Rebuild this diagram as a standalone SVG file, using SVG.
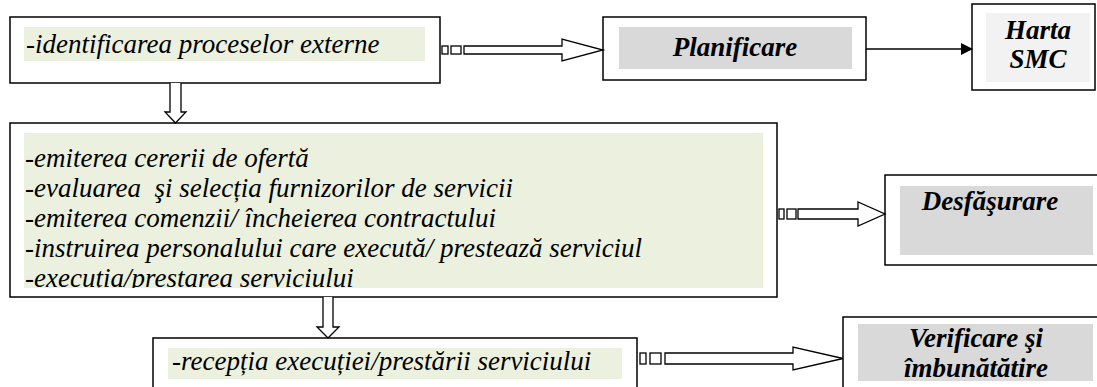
<svg xmlns="http://www.w3.org/2000/svg" width="1097" height="387" viewBox="0 0 1097 387">
<style>
.box{fill:#fff;stroke:#000;stroke-width:1.5}
.green{fill:#ebf1de}
.grey{fill:#d9d9d9}
.lgrey{fill:#f2f2f2}
.t{font-family:"Liberation Serif","Times New Roman",serif;font-style:italic;font-size:27px;fill:#000;white-space:pre}
.b{font-family:"Liberation Serif","Times New Roman",serif;font-style:italic;font-weight:bold;font-size:27px;fill:#000}
.ha{fill:#fff;stroke:#000;stroke-width:1.3}
</style>
<defs>
<clipPath id="c2"><rect x="24" y="133" width="739" height="155"/></clipPath>
<clipPath id="cv"><rect x="858" y="324" width="235" height="57"/></clipPath>
<marker id="solid" markerWidth="12" markerHeight="12" refX="11" refY="6" orient="auto" markerUnits="userSpaceOnUse"><path d="M0,0 L12,6 L0,12 Z" fill="#000"/></marker>
</defs>

<g id="node-identificare">
<rect class="box" x="10" y="17" width="430" height="66"/>
<rect class="green" x="24" y="27" width="401" height="34"/>
<text class="t" x="26" y="53">-identificarea proceselor externe</text>
</g>

<g id="node-planificare">
<rect class="box" x="603" y="17" width="263" height="63"/>
<rect class="grey" x="619" y="27" width="233" height="42"/>
<text class="b" x="735" y="56" text-anchor="middle">Planificare</text>
</g>

<g id="node-harta">
<rect class="box" x="972" y="4" width="123" height="86" stroke-width="2.2"/>
<rect class="lgrey" x="986" y="13" width="104" height="69"/>
<text class="b" x="1038" y="39" text-anchor="middle">Harta</text>
<text class="b" x="1038" y="68" text-anchor="middle">SMC</text>
</g>

<g id="node-procese">
<rect class="box" x="10" y="123" width="767" height="174"/>
<rect class="green" x="24" y="133" width="739" height="155"/>
<g clip-path="url(#c2)">
<text class="t" x="25" y="167">-emiterea cererii de ofertă</text>
<text class="t" x="25" y="197" xml:space="preserve">-evaluarea  şi selecția furnizorilor de servicii</text>
<text class="t" x="25" y="227">-emiterea comenzii/ încheierea contractului</text>
<text class="t" x="25" y="257">-instruirea personalului care execută/ prestează serviciul</text>
<text class="t" x="25" y="287">-execuția/prestarea serviciului</text>
</g>
</g>

<g id="node-desfasurare">
<rect class="box" x="885" y="175" width="220" height="90"/>
<rect class="grey" x="900" y="186" width="193" height="69"/>
<text class="b" x="990" y="210" text-anchor="middle">Desfăşurare</text>
</g>

<g id="node-receptie">
<rect class="box" x="153" y="338" width="484" height="60"/>
<rect class="green" x="168" y="348" width="454" height="31"/>
<text class="t" x="172" y="370">-recepția execuției/prestării serviciului</text>
</g>

<g id="node-verificare">
<rect class="box" x="843" y="317" width="260" height="80"/>
<rect class="grey" x="858" y="324" width="235" height="57"/>
<g clip-path="url(#cv)">
<text class="b" x="976" y="347" text-anchor="middle">Verificare şi</text>
<text class="b" x="976" y="377" text-anchor="middle">îmbunătătire</text>
</g>
</g>

<g id="connectors">
<rect class="ha" x="442" y="46" width="6" height="8"/>
<rect class="ha" x="451" y="46" width="10" height="8"/>
<path class="ha" d="M464,46 H562 V39 L603,50 L562,61 V54 H464 Z"/>
<line x1="866" y1="49" x2="972" y2="49" stroke="#000" stroke-width="1.5" marker-end="url(#solid)"/>
<path class="ha" d="M170,83 V112 H165 L175.5,123 L186,112 H181 V83"/>
<rect class="ha" x="779" y="209" width="5" height="10"/>
<rect class="ha" x="787" y="209" width="9" height="10"/>
<path class="ha" d="M798,209 H858 V202 L885,214 L858,226 V219 H798 Z"/>
<path class="ha" d="M323,297 V327 H317 L328,338 L339,327 H333 V297"/>
<rect class="ha" x="640" y="353" width="6" height="11"/>
<rect class="ha" x="650" y="353" width="11" height="11"/>
<path class="ha" d="M665,353 H793 V347 L843,358.5 L793,370 V364 H665 Z"/>
</g>
</svg>
